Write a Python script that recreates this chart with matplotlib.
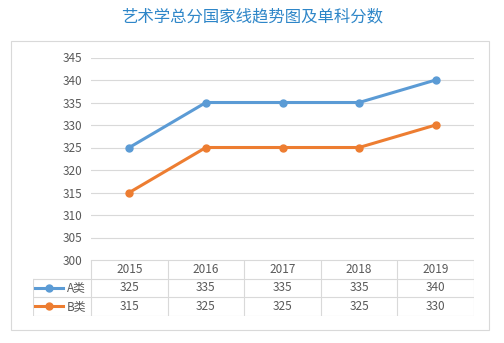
import matplotlib.pyplot as plt
from matplotlib.patches import Rectangle
from matplotlib.lines import Line2D

plt.rcParams['font.family'] = ['Noto Sans CJK SC', 'DejaVu Sans']

years = ['2015', '2016', '2017', '2018', '2019']
series_names = ['A类', 'B类']
a_scores = [325, 335, 335, 335, 340]
b_scores = [315, 325, 325, 325, 330]
colors = ['#5B9BD5', '#ED7D31']
yticks = list(range(300, 350, 5))

W, H = 504, 343
fig = plt.figure(figsize=(W / 100, H / 100), dpi=100)


def fx(px):
    return px / W


def fy(py):
    return 1 - py / H


# title
fig.text(0.5, fy(17), '艺术学总分国家线趋势图及单科分数', ha='center', va='center',
         fontsize=11.8, color='#2E86C8')

# outer chart frame
fig.patches.append(Rectangle((fx(10.5), fy(330)), fx(489) - fx(10.5), fy(41) - fy(330),
                             transform=fig.transFigure, fill=False,
                             edgecolor='#D9D9D9', linewidth=0.8))

# plot area
left, right, top, bottom = 91, 474, 57.5, 260
ax = fig.add_axes([fx(left), fy(bottom), fx(right) - fx(left), fy(top) - fy(bottom)])
xs = range(len(years))
for vals, c in zip([a_scores, b_scores], colors):
    ax.plot(xs, vals, color=c, linewidth=2.2, marker='o', markersize=5,
            solid_capstyle='round')
ax.set_xlim(-0.5, len(years) - 0.5)
ax.set_ylim(300, 345)
ax.set_yticks(yticks)
ax.set_xticks([])
ax.grid(axis='y', color='#D9D9D9', linewidth=0.8)
ax.set_axisbelow(True)
for s in ax.spines.values():
    s.set_visible(False)
ax.tick_params(axis='y', length=0, pad=6, labelsize=8.5, labelcolor='#595959')

# data table below the plot
row_h = 18.5
lab_left = 33
col_w = (right - left) / len(years)
tab = fig.add_axes([fx(lab_left), fy(bottom + 3 * row_h), fx(right) - fx(lab_left),
                    fy(bottom) - fy(bottom + 3 * row_h)])
lab_w = (left - lab_left) / col_w
tab.set_xlim(-0.5 - lab_w, len(years) - 0.5)
tab.set_ylim(3, 0)
tab.axis('off')
lc = '#D9D9D9'
lw = 0.8
tab.plot([-0.5, len(years) - 0.5], [0, 0], color=lc, lw=lw)
for r in [1, 2, 3]:
    tab.plot([-0.5 - lab_w, len(years) - 0.5], [r, r], color=lc, lw=lw)
tab.plot([-0.5 - lab_w] * 2, [1, 3], color=lc, lw=lw)
for i in range(len(years) + 1):
    tab.plot([i - 0.5] * 2, [0, 3], color=lc, lw=lw)

txt = dict(ha='center', va='center', fontsize=8.5, color='#595959')
for i, y in enumerate(years):
    tab.text(i, 0.5, y, **txt)
for r, (name, vals, c) in enumerate(zip(series_names, [a_scores, b_scores], colors), start=1):
    for i, v in enumerate(vals):
        tab.text(i, r + 0.5, str(v), **txt)
    x0 = -0.5 - lab_w + 2 / col_w
    x1 = x0 + 28 / col_w
    tab.add_line(Line2D([x0, x1], [r + 0.5, r + 0.5], color=c, lw=2.2))
    tab.plot([(x0 + x1) / 2], [r + 0.5], marker='o', color=c, markersize=5)
    tab.text(x1 + 4 / col_w, r + 0.5, name, ha='left', va='center', fontsize=8.5,
             color='#595959')

fig.savefig('out.png', dpi=100)
